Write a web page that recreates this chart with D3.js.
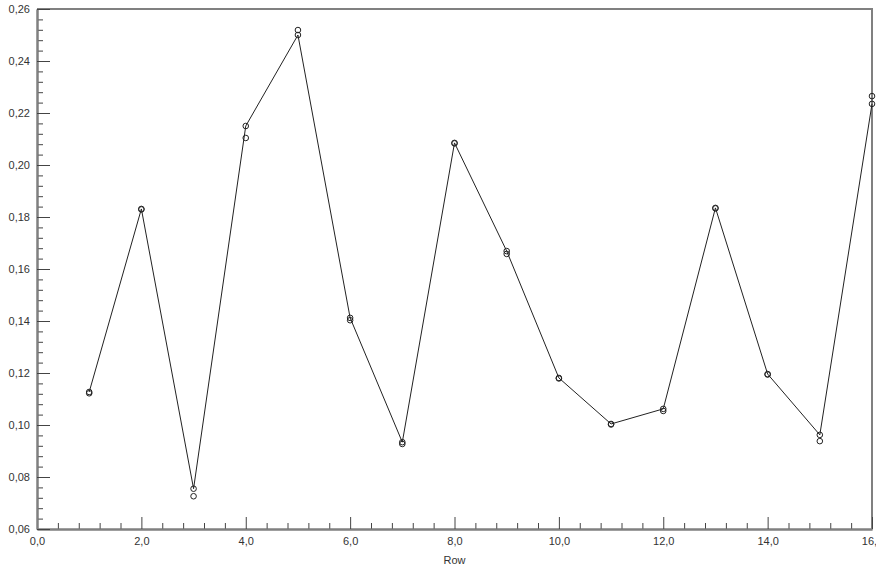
<!DOCTYPE html>
<html>
<head>
<meta charset="utf-8">
<script src="https://cdn.jsdelivr.net/npm/d3@7"></script>
<style>
  body { margin: 0; background: #fff; }
  svg { display: block; font-family: "Liberation Sans", Arial, sans-serif; }
</style>
</head>
<body>
<script>
const W = 876, H = 570;
const margin = { top: 9, right: 4, bottom: 41, left: 37 };

// rows 1..16, two readings per row; the first one is joined by the line
const rows = [1, 2, 3, 4, 5, 6, 7, 8, 9, 10, 11, 12, 13, 14, 15, 16];
const lineVals = [0.1127, 0.1831, 0.0755, 0.2150, 0.2500, 0.1412, 0.0934, 0.2085,
                  0.1669, 0.1181, 0.1004, 0.1062, 0.1835, 0.1196, 0.0962, 0.2235];
const dotVals  = [0.1122, 0.1829, 0.0726, 0.2104, 0.2519, 0.1403, 0.0927, 0.2083,
                  0.1658, 0.1179, 0.1002, 0.1054, 0.1833, 0.1194, 0.0938, 0.2265];
const xMajor = [0, 2, 4, 6, 8, 10, 12, 14, 16];
const yMajor = [0.06, 0.08, 0.10, 0.12, 0.14, 0.16, 0.18, 0.20, 0.22, 0.24, 0.26];

const xMinor = d3.range(0, 16.001, 0.4).filter(v => Math.abs(v / 2 - Math.round(v / 2)) > 1e-6);
const yMinor = d3.range(0.06, 0.2601, 0.004).filter(v => Math.abs(v / 0.02 - Math.round(v / 0.02)) > 1e-6);

const x = d3.scaleLinear().domain([0, 16]).range([margin.left, W - margin.right]);
const y = d3.scaleLinear().domain([0.06, 0.26]).range([H - margin.bottom, margin.top]);

const comma = f => v => d3.format(f)(v).replace(".", ",");

const svg = d3.select("body").append("svg")
    .attr("width", W)
    .attr("height", H);

// frame: top and right borders
svg.append("path")
    .attr("d", `M${x(0)},${y(0.26)}H${x(16)}V${y(0.06)}`)
    .attr("fill", "none")
    .attr("stroke", "#808080")
    .attr("stroke-width", 2);

const gxMin = svg.append("g")
    .attr("transform", `translate(0,${y(0.06)})`)
    .call(d3.axisBottom(x).tickValues(xMinor).tickFormat("").tickSize(-6).tickSizeOuter(0));
const gx = svg.append("g")
    .attr("transform", `translate(0,${y(0.06)})`)
    .call(d3.axisBottom(x).tickValues(xMajor).tickFormat(comma(".1f")).tickSize(-12).tickSizeOuter(0).tickPadding(8));

const gyMin = svg.append("g")
    .attr("transform", `translate(${x(0)},0)`)
    .call(d3.axisLeft(y).tickValues(yMinor).tickFormat("").tickSize(-6).tickSizeOuter(0));
const gy = svg.append("g")
    .attr("transform", `translate(${x(0)},0)`)
    .call(d3.axisLeft(y).tickValues(yMajor).tickFormat(comma(".2f")).tickSize(-13).tickSizeOuter(0).tickPadding(7));

[gx, gy, gxMin, gyMin].forEach(g => {
    g.select(".domain").attr("stroke", "#808080").attr("stroke-width", 2);
    g.selectAll(".tick line").attr("stroke", "#444");
    g.selectAll(".tick text")
        .attr("fill", "#333")
        .style("font-size", "11px")
        .style("font-family", "'Liberation Sans', Arial, sans-serif");
});

svg.append("text")
    .attr("x", (x(0) + x(16)) / 2)
    .attr("y", H - 6)
    .attr("text-anchor", "middle")
    .attr("fill", "#333")
    .style("font-size", "11px")
    .text("Row");

const line = d3.line()
    .x((d, i) => x(rows[i]))
    .y(d => y(d));

svg.append("path")
    .datum(lineVals)
    .attr("d", line)
    .attr("fill", "none")
    .attr("stroke", "#222")
    .attr("stroke-width", 1);

[dotVals, lineVals].forEach(vals => {
    svg.append("g").selectAll("circle")
        .data(vals).enter()
        .append("circle")
        .attr("cx", (d, i) => x(rows[i]))
        .attr("cy", d => y(d))
        .attr("r", 2.8)
        .attr("fill", "none")
        .attr("stroke", "#222")
        .attr("stroke-width", 1);
});
</script>
</body>
</html>
